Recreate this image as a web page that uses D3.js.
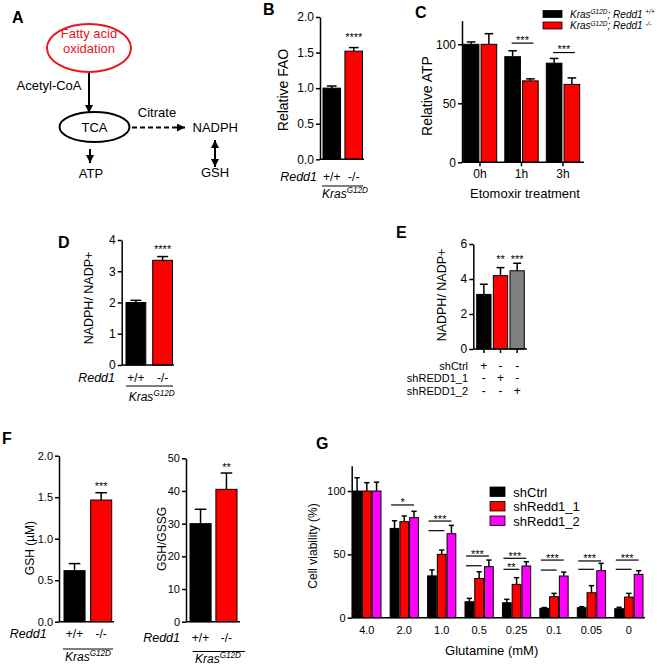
<!DOCTYPE html>
<html><head><meta charset="utf-8">
<script src="https://cdn.jsdelivr.net/npm/d3@7"></script>
<style>body{margin:0;background:#fff} svg{display:block}</style>
</head><body><svg id="c" width="657" height="667"></svg>
<script>
// ---------------- DATA ----------------
const bCats = ["+/+", "-/-"];
const bValues = [1.0, 1.52];
const bErrors = [0.03, 0.05];
const bTicks = [0, 0.5, 1.0, 1.5, 2.0];

const cGroups = ["0h", "1h", "3h"];
const cSeriesNames = ["+/+", "-/-"];
const cWT = [100, 89.5, 84];
const cWTErr = [2, 5, 4];
const cKO = [100, 69, 66];
const cKOErr = [9, 1.7, 5.5];
const cTicks = [0, 50, 100];
const cSig = [{group: "1h", y: 101, label: "***"}, {group: "3h", y: 93, label: "***"}];

const dCats = ["+/+", "-/-"];
const dValues = [2.0, 3.35];
const dErrors = [0.07, 0.12];
const dTicks = [0, 1, 2, 3, 4];

const eCats = ["shCtrl", "shREDD1_1", "shREDD1_2"];
const eValues = [3.12, 4.19, 4.47];
const eErrors = [0.58, 0.46, 0.43];
const eTicks = [0, 2, 4, 6];
const eStars = ["", "**", "***"];

const fCats = ["+/+", "-/-"];
const fGshValues = [0.615, 1.466];
const fGshErrors = [0.085, 0.088];
const fGshTicks = [0, 0.5, 1.0, 1.5, 2.0];
const fRatioValues = [30, 40.5];
const fRatioErrors = [4.4, 5.0];
const fRatioTicks = [0, 10, 20, 30, 40, 50];

const gGroups = ["4.0", "2.0", "1.0", "0.5", "0.25", "0.1", "0.05", "0"];
const gSeries = ["shCtrl", "shRedd1_1", "shRedd1_2"];
const gCtrl = [100, 70.5, 33, 12.6, 11.8, 7.4, 7.9, 7.1];
const gCtrlErr = [10.5, 6, 4.7, 2.7, 2.7, 0.6, 0.8, 1.1];
const gSh1 = [100, 75.8, 50, 31, 26.3, 16.6, 19.7, 16.3];
const gSh1Err = [6.6, 4.5, 3.4, 5.3, 5.3, 2.6, 5.6, 2.9];
const gSh2 = [100, 79, 66.3, 40.3, 40.8, 32.9, 37.1, 34.2];
const gSh2Err = [7, 5, 6.6, 5.2, 3.4, 3.1, 5.8, 2.9];
const gTicks = [0, 50, 100];
const gSigUpper = [null, {y: 89, label: "*"}, {y: 76.3, label: "***"}, {y: 48.7, label: "***"}, {y: 46.9, label: "***"}, {y: 45.5, label: "***"}, {y: 44.8, label: "***"}, {y: 45.5, label: "***"}];
const gSigLower = [null, null, {y: 68.7, label: ""}, {y: 41, label: ""}, {y: 38.2, label: "**"}, {y: 37.6, label: ""}, {y: 38.2, label: ""}, {y: 38.2, label: ""}];

// ---------------- DRAWING ----------------
const FONT = "'Liberation Sans', Arial, Helvetica, sans-serif";
const RED = "#ff0000", MAG = "#ff00ff", GRAY = "#808080";
const svg = d3.select("#c");
svg.append("rect").attr("width", 657).attr("height", 667).attr("fill", "#fff");

function txt(g, x, y, s, opt = {}) {
  const t = g.append("text").attr("x", x).attr("y", y).text(s)
    .attr("font-family", FONT).attr("font-size", opt.fs || 12)
    .attr("fill", opt.fill || "#000")
    .attr("text-anchor", opt.anchor || "middle");
  if (opt.italic) t.attr("font-style", "italic");
  if (opt.bold) t.attr("font-weight", "bold");
  return t;
}
function rotLabel(g, cx, cy, s, fs) {
  g.append("text").attr("transform", `translate(${cx},${cy}) rotate(-90)`)
    .attr("text-anchor", "middle").attr("dy", "0.35em")
    .attr("font-family", FONT).attr("font-size", fs).text(s);
}
function yAxis(g, y, x, ticks, fmt, fs) {
  g.append("g").attr("transform", `translate(${x},0)`)
    .call(d3.axisLeft(y).tickValues(ticks).tickFormat(fmt).tickSize(4).tickSizeOuter(0).tickPadding(2))
    .call(a => {
      a.select(".domain").attr("stroke-width", 1.5).attr("stroke", "#000");
      a.selectAll(".tick line").attr("stroke-width", 1.5).attr("stroke", "#000");
      a.selectAll(".tick text").attr("font-size", fs).attr("font-family", FONT).attr("fill", "#000");
    });
}
function hline(g, x1, x2, yy, sw = 1.5) {
  g.append("line").attr("x1", x1).attr("x2", x2).attr("y1", yy).attr("y2", yy)
    .attr("stroke", "#000").attr("stroke-width", sw);
}
function bar(g, x0, w, y, v, e, color, cap = 0.55) {
  const cx = x0 + w / 2;
  g.append("line").attr("x1", cx).attr("x2", cx).attr("y1", y(v)).attr("y2", y(v + e))
    .attr("stroke", "#000").attr("stroke-width", 1.5);
  g.append("line").attr("x1", cx - w * cap / 2).attr("x2", cx + w * cap / 2)
    .attr("y1", y(v + e)).attr("y2", y(v + e)).attr("stroke", "#000").attr("stroke-width", 1.5);
  g.append("rect").attr("x", x0).attr("y", y(v)).attr("width", w).attr("height", y(0) - y(v))
    .attr("fill", color).attr("stroke", "#000").attr("stroke-width", 1);
}
function kras(g, cx, by, fs = 12) {
  const t = g.append("text").attr("x", cx).attr("y", by).attr("text-anchor", "middle")
    .attr("font-family", FONT).attr("font-size", fs).attr("font-style", "italic");
  t.append("tspan").text("Kras");
  t.append("tspan").attr("font-size", fs * 0.68).attr("dy", -fs * 0.38).text("G12D");
}
function genotype(g, x, cats, redd1Right, by, lineY, lx1, lx2, krasX, krasY) {
  txt(g, redd1Right, by, "Redd1", {anchor: "end", italic: true, fs: 12.5});
  cats.forEach(c => txt(g, x(c) + x.bandwidth() / 2, by, c, {fs: 12}));
  hline(g, lx1, lx2, lineY, 1);
  kras(g, krasX, krasY);
}
function panelLabel(s, x, y) { txt(svg, x, y, s, {anchor: "start", bold: true, fs: 16}); }

// ---------- Panel A ----------
const defs = svg.append("defs");
defs.append("marker").attr("id", "ah").attr("viewBox", "0 0 10 10").attr("refX", 10).attr("refY", 5)
  .attr("markerWidth", 8).attr("markerHeight", 8).attr("markerUnits", "userSpaceOnUse")
  .attr("orient", "auto-start-reverse")
  .append("path").attr("d", "M0,0 L10,5 L0,10 z").attr("fill", "#000");
const A = svg.append("g");
panelLabel("A", 12, 23);
A.append("ellipse").attr("cx", 89).attr("cy", 48).attr("rx", 42).attr("ry", 24)
  .attr("fill", "none").attr("stroke", "#e8141e").attr("stroke-width", 2);
txt(A, 89, 38, "Fatty acid", {fill: "#e8141e", fs: 13});
txt(A, 89, 53, "oxidation", {fill: "#e8141e", fs: 13});
A.append("line").attr("x1", 89).attr("x2", 89).attr("y1", 73).attr("y2", 113)
  .attr("stroke", "#000").attr("stroke-width", 2).attr("marker-end", "url(#ah)");
txt(A, 49, 90, "Acetyl-CoA", {fs: 13});
A.append("ellipse").attr("cx", 94.5).attr("cy", 127).attr("rx", 35).attr("ry", 15)
  .attr("fill", "none").attr("stroke", "#000").attr("stroke-width", 2);
txt(A, 94.5, 131.5, "TCA", {fs: 13});
A.append("line").attr("x1", 90).attr("x2", 90).attr("y1", 149).attr("y2", 163)
  .attr("stroke", "#000").attr("stroke-width", 2).attr("marker-end", "url(#ah)");
txt(A, 91, 178, "ATP", {fs: 13});
A.append("line").attr("x1", 132).attr("x2", 185).attr("y1", 127.5).attr("y2", 127.5)
  .attr("stroke", "#000").attr("stroke-width", 2).attr("stroke-dasharray", "5,3").attr("marker-end", "url(#ah)");
txt(A, 157, 116.5, "Citrate", {fs: 13});
txt(A, 192.5, 131.5, "NADPH", {anchor: "start", fs: 13});
A.append("line").attr("x1", 215).attr("x2", 215).attr("y1", 140).attr("y2", 167)
  .attr("stroke", "#000").attr("stroke-width", 2).attr("marker-start", "url(#ah)").attr("marker-end", "url(#ah)");
txt(A, 215, 177, "GSH", {fs: 13});

// ---------- Panel B ----------
{
  const g = svg.append("g");
  panelLabel("B", 263, 15);
  const y = d3.scaleLinear().domain([0, 2]).range([159.3, 17]);
  const x = d3.scaleBand().domain(bCats).range([323, 362.5]).paddingInner(0.2);
  const cols = [ "#000", RED ];
  bCats.forEach((c, i) => bar(g, x(c), x.bandwidth(), y, bValues[i], bErrors[i], cols[i]));
  yAxis(g, y, 320, bTicks, d3.format(".1f"), 12);
  hline(g, 320, 364, y(0));
  txt(g, x("-/-") + x.bandwidth() / 2, 41, "****", {fs: 11});
  rotLabel(g, 283, 90, "Relative FAO", 14);
  genotype(g, x, bCats, 317, 181, 186, 322, 363, 345, 198);
}

// ---------- Panel C ----------
{
  const g = svg.append("g");
  panelLabel("C", 415, 18);
  const y = d3.scaleLinear().domain([0, 120]).range([162.3, 20.7]);
  const x0 = d3.scaleBand().domain(cGroups).range([463.3, 579.7]).paddingInner(0.195);
  const x1 = d3.scaleBand().domain(cSeriesNames).range([0, x0.bandwidth()]).paddingInner(0.12);
  const series = [[cWT, cWTErr, "#000"], [cKO, cKOErr, RED]];
  cGroups.forEach((grp, i) => {
    series.forEach(([vals, errs, col], j) => {
      bar(g, x0(grp) + x1(cSeriesNames[j]), x1.bandwidth(), y, vals[i], errs[i], col);
    });
  });
  yAxis(g, y, 462, cTicks, d3.format("d"), 12);
  hline(g, 462, 584, y(0));
  cGroups.forEach(grp => {
    const cx = x0(grp) + x0.bandwidth() / 2;
    g.append("line").attr("x1", cx).attr("x2", cx).attr("y1", y(0)).attr("y2", y(0) + 4)
      .attr("stroke", "#000").attr("stroke-width", 1.5);
    txt(g, cx, 178, grp, {fs: 12});
  });
  cSig.forEach(s => {
    const a = x0(s.group) + x1(cSeriesNames[0]) + x1.bandwidth() / 2 - 1;
    const b = x0(s.group) + x1(cSeriesNames[1]) + x1.bandwidth() / 2 + 3;
    hline(g, a, b, y(s.y), 1.2);
    txt(g, (a + b) / 2, y(s.y) + 0.5, s.label, {fs: 11});
  });
  txt(g, 525, 198, "Etomoxir treatment", {fs: 13});
  rotLabel(g, 427, 96, "Relative ATP", 14);
  // legend
  const legY = [10.5, 22];
  const legC = ["#000", RED];
  cSeriesNames.forEach((s, i) => {
    g.append("rect").attr("x", 543).attr("y", legY[i]).attr("width", 19).attr("height", 7)
      .attr("fill", legC[i]).attr("stroke", "#000").attr("stroke-width", 0.8);
    const t = g.append("text").attr("x", 570).attr("y", legY[i] + 7).attr("font-family", FONT)
      .attr("font-size", 10).attr("font-style", "italic");
    t.append("tspan").text("Kras");
    t.append("tspan").attr("font-size", 6.5).attr("dy", -3.5).text("G12D");
    t.append("tspan").attr("dy", 3.5).text("; Redd1 ");
    t.append("tspan").attr("font-size", 6.5).attr("dy", -3.5).text(s);
  });
}

// ---------- Panel D ----------
{
  const g = svg.append("g");
  panelLabel("D", 58, 248);
  const y = d3.scaleLinear().domain([0, 4]).range([365, 240]);
  const x = d3.scaleBand().domain(dCats).range([126, 172.5]).paddingInner(0.26);
  const cols = ["#000", RED];
  dCats.forEach((c, i) => bar(g, x(c), x.bandwidth(), y, dValues[i], dErrors[i], cols[i]));
  yAxis(g, y, 121.7, dTicks, d3.format("d"), 12);
  hline(g, 121.7, 174, y(0));
  txt(g, x("-/-") + x.bandwidth() / 2, 253, "****", {fs: 11});
  rotLabel(g, 88.5, 298, "NADPH/ NADP+", 12.5);
  genotype(g, x, dCats, 115, 382, 386, 126, 173, 151.7, 401);
}

// ---------- Panel E ----------
{
  const g = svg.append("g");
  panelLabel("E", 396, 238);
  const y = d3.scaleLinear().domain([0, 6]).range([349, 244]);
  const x = d3.scaleBand().domain(eCats).range([476.7, 524.3]).paddingInner(0.14);
  const cols = ["#000", RED, GRAY];
  eCats.forEach((c, i) => bar(g, x(c), x.bandwidth(), y, eValues[i], eErrors[i], cols[i]));
  yAxis(g, y, 473.3, eTicks, d3.format("d"), 12);
  hline(g, 473.3, 527, y(0));
  eCats.forEach((c, i) => {
    const cx = x(c) + x.bandwidth() / 2;
    g.append("line").attr("x1", cx).attr("x2", cx).attr("y1", y(0)).attr("y2", y(0) + 4)
      .attr("stroke", "#000").attr("stroke-width", 1.5);
    if (eStars[i]) txt(g, cx, 263, eStars[i], {fs: 11});
  });
  rotLabel(g, 442, 295, "NADPH/ NADP+", 12.5);
  const rowY = [369.5, 382, 394.5];
  eCats.forEach((rowName, r) => {
    txt(g, 468, rowY[r], rowName, {anchor: "end", fs: 11});
    eCats.forEach((c, k) => txt(g, x(c) + x.bandwidth() / 2, rowY[r], r === k ? "+" : "-", {fs: 12}));
  });
}

// ---------- Panel F ----------
panelLabel("F", 2, 444);
{
  const g = svg.append("g");
  const y = d3.scaleLinear().domain([0, 2]).range([621.7, 455.7]);
  const x = d3.scaleBand().domain(fCats).range([64, 111.7]).paddingInner(0.21);
  const cols = ["#000", RED];
  fCats.forEach((c, i) => bar(g, x(c), x.bandwidth(), y, fGshValues[i], fGshErrors[i], cols[i]));
  yAxis(g, y, 59, fGshTicks, d3.format(".1f"), 11);
  hline(g, 59, 114, y(0));
  txt(g, x("-/-") + x.bandwidth() / 2, 489.5, "***", {fs: 11});
  rotLabel(g, 30, 548, "GSH (\u00b5M)", 12);
  genotype(g, x, fCats, 46.7, 638, 649, 63, 113, 88, 661);
}
{
  const g = svg.append("g");
  const y = d3.scaleLinear().domain([0, 50]).range([621.7, 458.3]);
  const x = d3.scaleBand().domain(fCats).range([190, 237]).paddingInner(0.185);
  const cols = ["#000", RED];
  fCats.forEach((c, i) => bar(g, x(c), x.bandwidth(), y, fRatioValues[i], fRatioErrors[i], cols[i]));
  yAxis(g, y, 186, fRatioTicks, d3.format("d"), 11);
  hline(g, 186, 240, y(0));
  txt(g, x("-/-") + x.bandwidth() / 2, 471, "**", {fs: 11});
  rotLabel(g, 161.7, 539, "GSH/GSSG", 12);
  genotype(g, x, fCats, 180, 642, 651.5, 192.7, 245, 218, 663);
}

// ---------- Panel G ----------
panelLabel("G", 316, 449);
{
  const g = svg.append("g");
  const y = d3.scaleLinear().domain([0, 120]).range([617.7, 465.7]);
  const x0 = d3.scaleBand().domain(gGroups).range([352.7, 643]).paddingInner(0.245);
  const x1 = d3.scaleBand().domain(gSeries).range([0, x0.bandwidth()]).paddingInner(0.1);
  const series = [[gCtrl, gCtrlErr, "#000"], [gSh1, gSh1Err, RED], [gSh2, gSh2Err, MAG]];
  gGroups.forEach((grp, i) => {
    series.forEach(([vals, errs, col], j) => {
      bar(g, x0(grp) + x1(gSeries[j]), x1.bandwidth(), y, vals[i], errs[i], col, 0.6);
    });
  });
  yAxis(g, y, 351.7, gTicks, d3.format("d"), 11);
  hline(g, 351.7, 645, y(0));
  gGroups.forEach((grp, i) => {
    const gx = x0(grp), bw = x1.bandwidth();
    txt(g, gx + x0.bandwidth() / 2, 634.3, grp, {fs: 11});
    const u = gSigUpper[i];
    if (u) {
      const a = gx + 1, b = gx + x1(gSeries[2]) + bw / 2;
      hline(g, a, b, y(u.y), 1.2);
      txt(g, (a + b) / 2, y(u.y) + 1.5, u.label, {fs: 11});
    }
    const l = gSigLower[i];
    if (l) {
      const a = gx + 1, b = gx + x1(gSeries[1]) + bw * 0.8;
      hline(g, a, b, y(l.y), 1.2);
      if (l.label) txt(g, (a + b) / 2, y(l.y) + 1.5, l.label, {fs: 11});
    }
  });
  txt(g, 491.7, 655, "Glutamine (mM)", {fs: 13});
  rotLabel(g, 313, 546, "Cell viability (%)", 12);
  const legY = [487, 501.5, 516];
  const legC = ["#000", RED, MAG];
  gSeries.forEach((s, i) => {
    g.append("rect").attr("x", 490).attr("y", legY[i]).attr("width", 15).attr("height", 9.5)
      .attr("fill", legC[i]).attr("stroke", "#000").attr("stroke-width", 0.8);
    txt(g, 513.3, legY[i] + 9.5, s, {anchor: "start", fs: 13});
  });
}
</script></body></html>
